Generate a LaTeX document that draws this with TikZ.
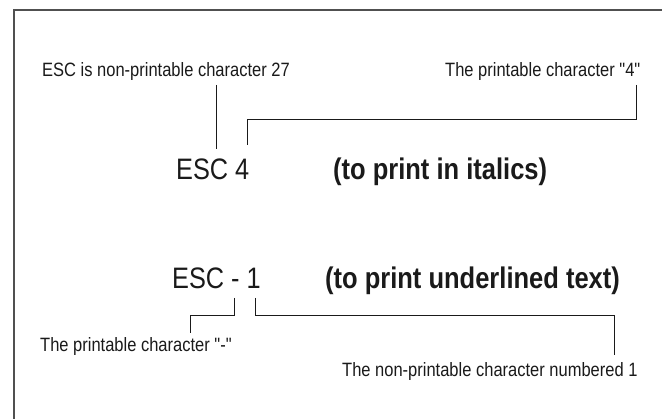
\documentclass[tikz,border=0pt]{standalone}
\usepackage{graphicx}
\usepackage{fontspec}
\setmainfont{Liberation Sans}[Ligatures=TeXOff]
\definecolor{ink}{HTML}{1A1A1A}
\definecolor{frame}{HTML}{505050}
\newcommand{\tall}[1]{\scalebox{1}[1.17]{#1}}
\begin{document}
\begin{tikzpicture}[x=1pt,y=-1pt,
  lbl/.style={inner sep=0pt,anchor=base west,text=ink,font=\fontsize{16.5}{18}\selectfont},
  big/.style={inner sep=0pt,anchor=base west,text=ink,font=\fontsize{25.3}{28}\selectfont},
  bigb/.style={inner sep=0pt,anchor=base west,text=ink,font=\fontsize{25.5}{28}\selectfont\bfseries},
  conn/.style={line width=1pt,draw=ink}]
\useasboundingbox (0,0) rectangle (662,419);
\fill[white] (0,0) rectangle (662,419);
\draw[line width=1.5pt,draw=frame] (14,419) -- (14,10) -- (662,10);

\node[lbl] (l1) at (42,77) {\tall{ESC is non-printable character 27}};
\node[lbl] (l2) at (445,77) {\tall{The printable character "4"}};
\node[big] (e4) at (176,180) {\tall{ESC 4}};
\node[bigb] (i4) at (333,180) {\tall{(to print in italics)}};
\node[big] (e1) at (172,289) {\tall{ESC - 1}};
\node[bigb] (u1) at (325,289) {\tall{(to print underlined text)}};
\node[lbl] (l3) at (40,352) {\tall{The printable character "-"}};
\node[lbl] (l4) at (342,377) {\tall{The non-printable character numbered 1}};

\coordinate (a1) at (216,85);
\coordinate (b1) at (216,149);
\draw[conn] (a1) -- (b1);

\coordinate (a2) at (636,85);
\coordinate (m2) at (247,120);
\coordinate (b2) at (247,145);
\draw[conn] (a2) |- (m2) -- (b2);

\coordinate (a3) at (234,298);
\coordinate (m3) at (190,316);
\coordinate (b3) at (190,333);
\draw[conn] (a3) |- (m3) -- (b3);

\coordinate (a4) at (255,298);
\coordinate (m4) at (614,316);
\coordinate (b4) at (614,355);
\draw[conn] (a4) |- (m4) -- (b4);
\end{tikzpicture}
\end{document}
